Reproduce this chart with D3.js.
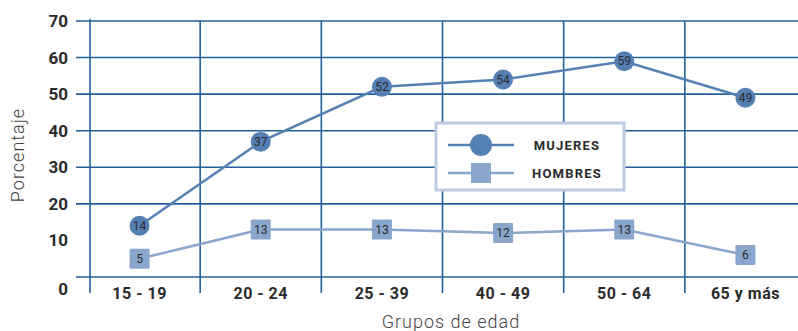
<!DOCTYPE html>
<html>
<head>
<meta charset="utf-8">
<script src="https://cdn.jsdelivr.net/npm/d3@7"></script>
<style>
  body { margin: 0; background: #fff; }
  svg { font-family: Roboto, "DejaVu Sans", sans-serif; }
</style>
</head>
<body>
<div id="chart"></div>
<script>
var categories = ["15 - 19", "20 - 24", "25 - 39", "40 - 49", "50 - 64", "65 y más"];
var mujeres = [14, 37, 52, 54, 59, 49];
var hombres = [5, 13, 13, 12, 13, 6];
var yTicks = [10, 20, 30, 40, 50, 60, 70];
var gridTicks = [0, 20, 30, 40, 50, 60, 70];

var W = 798, H = 331;
var gridColor = "#235f9a", mujColor = "#5580b4", homColor = "#8aa6cc", textColor = "#2b2b2b";

var svg = d3.select("#chart").append("svg")
    .attr("width", W)
    .attr("height", H);

var x = d3.scaleBand().domain(categories).range([79, 806]);
var y = d3.scaleLinear().domain([0, 70]).range([277, 21]);
var cx = function (d, i) { return x(categories[i]) + x.bandwidth() / 2; };

// horizontal grid
svg.append("g").selectAll("line")
    .data(gridTicks)
  .enter().append("line")
    .attr("x1", 76).attr("x2", W)
    .attr("y1", function (d) { return y(d); })
    .attr("y2", function (d) { return y(d); })
    .attr("stroke", gridColor)
    .attr("stroke-width", 1.6);

// vertical grid (category boundaries)
svg.append("g").selectAll("line")
    .data(categories.slice(1))
  .enter().append("line")
    .attr("x1", function (d) { return x(d); })
    .attr("x2", function (d) { return x(d); })
    .attr("y1", 21).attr("y2", 293)
    .attr("stroke", gridColor)
    .attr("stroke-width", 1.6);

// left axis line
svg.append("line")
    .attr("x1", 90).attr("x2", 90)
    .attr("y1", 19).attr("y2", 293)
    .attr("stroke", gridColor)
    .attr("stroke-width", 1.6);

// y tick labels
svg.append("g").selectAll("text")
    .data(yTicks)
  .enter().append("text")
    .attr("x", 68)
    .attr("y", function (d) { return y(d); })
    .attr("dy", "0.35em")
    .attr("text-anchor", "end")
    .attr("font-size", 17)
    .attr("font-weight", "bold")
    .attr("fill", textColor)
    .text(function (d) { return d; });

svg.append("text")
    .attr("x", 68).attr("y", 289).attr("dy", "0.35em")
    .attr("text-anchor", "end")
    .attr("font-size", 17).attr("font-weight", "bold")
    .attr("fill", textColor)
    .text("0");

// x tick labels
svg.append("g").selectAll("text")
    .data(categories)
  .enter().append("text")
    .attr("x", function (d) { return x(d) + x.bandwidth() / 2; })
    .attr("y", 299)
    .attr("text-anchor", "middle")
    .attr("font-size", 16)
    .attr("font-weight", "bold")
    .attr("letter-spacing", 0.5)
    .attr("fill", textColor)
    .text(function (d) { return d; });

// axis titles
svg.append("text")
    .attr("transform", "translate(24,155) rotate(-90)")
    .attr("text-anchor", "middle")
    .attr("font-size", 18)
    .attr("font-weight", 300)
    .attr("letter-spacing", 1)
    .attr("fill", "#444")
    .text("Porcentaje");

svg.append("text")
    .attr("x", 451).attr("y", 328)
    .attr("text-anchor", "middle")
    .attr("font-size", 18)
    .attr("font-weight", 300)
    .attr("letter-spacing", 1)
    .attr("fill", "#444")
    .text("Grupos de edad");

var line = d3.line()
    .x(cx)
    .y(function (d) { return y(d); });

// legend
var lg = svg.append("g");
lg.append("rect")
    .attr("x", 436).attr("y", 123)
    .attr("width", 188).attr("height", 67)
    .attr("fill", "#fff")
    .attr("stroke", "#bccbe3")
    .attr("stroke-width", 3);
lg.append("line").attr("x1", 448).attr("x2", 514).attr("y1", 145).attr("y2", 145)
    .attr("stroke", mujColor).attr("stroke-width", 2.5);
lg.append("circle").attr("cx", 481).attr("cy", 145).attr("r", 11).attr("fill", mujColor);
lg.append("line").attr("x1", 448).attr("x2", 514).attr("y1", 173).attr("y2", 173)
    .attr("stroke", homColor).attr("stroke-width", 2.5);
lg.append("rect").attr("x", 471).attr("y", 163).attr("width", 20).attr("height", 20).attr("fill", homColor);
lg.selectAll(".lt")
    .data(["MUJERES", "HOMBRES"])
  .enter().append("text")
    .attr("x", 567)
    .attr("y", function (d, i) { return 145 + i * 28; })
    .attr("dy", "0.35em")
    .attr("text-anchor", "middle")
    .attr("font-size", 13)
    .attr("font-weight", "bold")
    .attr("letter-spacing", 1.2)
    .attr("fill", textColor)
    .text(function (d) { return d; });

// series
svg.append("path").datum(hombres)
    .attr("d", line).attr("fill", "none")
    .attr("stroke", homColor).attr("stroke-width", 2.5);
svg.append("path").datum(mujeres)
    .attr("d", line).attr("fill", "none")
    .attr("stroke", mujColor).attr("stroke-width", 2.5);

svg.append("g").selectAll("rect")
    .data(hombres)
  .enter().append("rect")
    .attr("x", function (d, i) { return cx(d, i) - 10; })
    .attr("y", function (d) { return y(d) - 10; })
    .attr("width", 20).attr("height", 20)
    .attr("rx", 1)
    .attr("fill", homColor);

svg.append("g").selectAll("circle")
    .data(mujeres)
  .enter().append("circle")
    .attr("cx", cx)
    .attr("cy", function (d) { return y(d); })
    .attr("r", 10)
    .attr("fill", mujColor);

function pointLabels (data) {
  svg.append("g").selectAll("text")
      .data(data)
    .enter().append("text")
      .attr("x", cx)
      .attr("y", function (d) { return y(d); })
      .attr("dy", "0.35em")
      .attr("text-anchor", "middle")
      .attr("font-size", 12)
      .attr("fill", "#2b2b2b")
      .text(function (d) { return d; });
}
pointLabels(hombres);
pointLabels(mujeres);
</script>
</body>
</html>
